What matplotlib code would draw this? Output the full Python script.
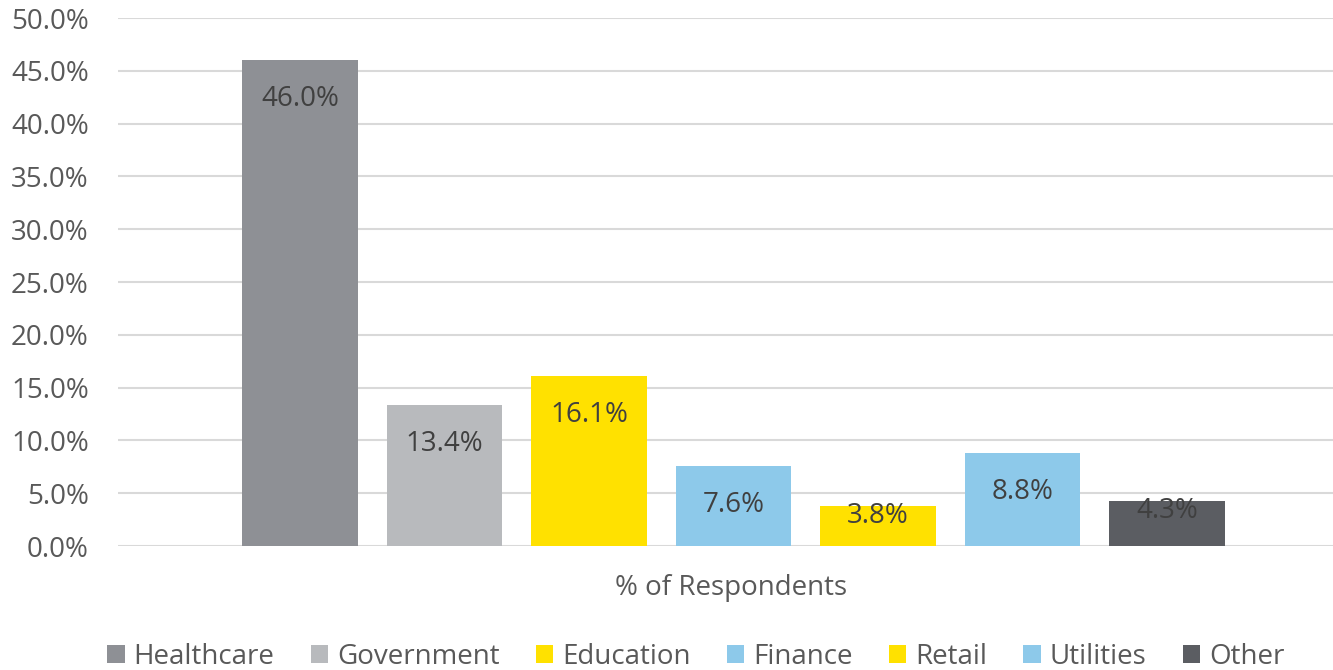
import matplotlib.pyplot as plt
from matplotlib.patches import Patch
from matplotlib.ticker import PercentFormatter

plt.rcParams['font.family'] = ['Open Sans', 'DejaVu Sans']

# Respondents by sector
sectors = ['Healthcare', 'Government', 'Education', 'Finance', 'Retail', 'Utilities', 'Other']
shares = [46.0, 13.4, 16.1, 7.6, 3.8, 8.8, 4.3]
colors = ['#8E9095', '#B8BABD', '#FFE100', '#8DC9EA', '#FFE100', '#8DC9EA', '#5B5D62']
group_label = '% of Respondents'

text_color = '#595959'
label_color = '#404040'
grid_color = '#D9D9D9'
fs = 20

fig = plt.figure(figsize=(13.33, 6.7), dpi=100)
ax = fig.add_axes([0.0885, 0.185, 0.9115, 0.788])

positions = [i - (len(sectors) - 1) / 2 for i in range(len(sectors))]
bars = ax.bar(positions, shares, width=0.8, color=colors, zorder=3)

# value labels inside the top of each bar; short bars get them pushed up to the edge
for b, v in zip(bars, shares):
    drop = -39 if v > 5 else -10
    ax.annotate(f'{v:.1f}%', (b.get_x() + b.get_width() / 2, v),
                xytext=(0, drop), textcoords='offset pixels',
                ha='center', va='center', fontsize=fs, color=label_color, zorder=4)

ax.set_ylim(0, 50)
ax.set_xlim(-4.26, 4.15)
ax.set_yticks(range(0, 51, 5))
ax.yaxis.set_major_formatter(PercentFormatter(decimals=1))
ax.set_xticks([])
ax.tick_params(axis='y', length=0, pad=21, labelsize=fs, labelcolor=text_color)
ax.grid(axis='y', color=grid_color, linewidth=1.5, zorder=0)
for s in ax.spines.values():
    s.set_visible(False)

ax.set_xlabel(group_label, fontsize=fs, color=text_color)
ax.xaxis.set_label_coords(0.505, -0.08, transform=ax.transAxes)
ax.xaxis.label.set_va('center')

handles = [Patch(facecolor=c, edgecolor='none') for c in colors]
fig.legend(handles, sectors, loc='center', bbox_to_anchor=(0.522, 0.02), ncol=7,
           frameon=False, fontsize=fs, labelcolor=text_color,
           handlelength=0.62, handleheight=0.62, handletextpad=0.32, columnspacing=1.31,
           borderpad=0, borderaxespad=0)

fig.savefig('out.png', dpi=100)
